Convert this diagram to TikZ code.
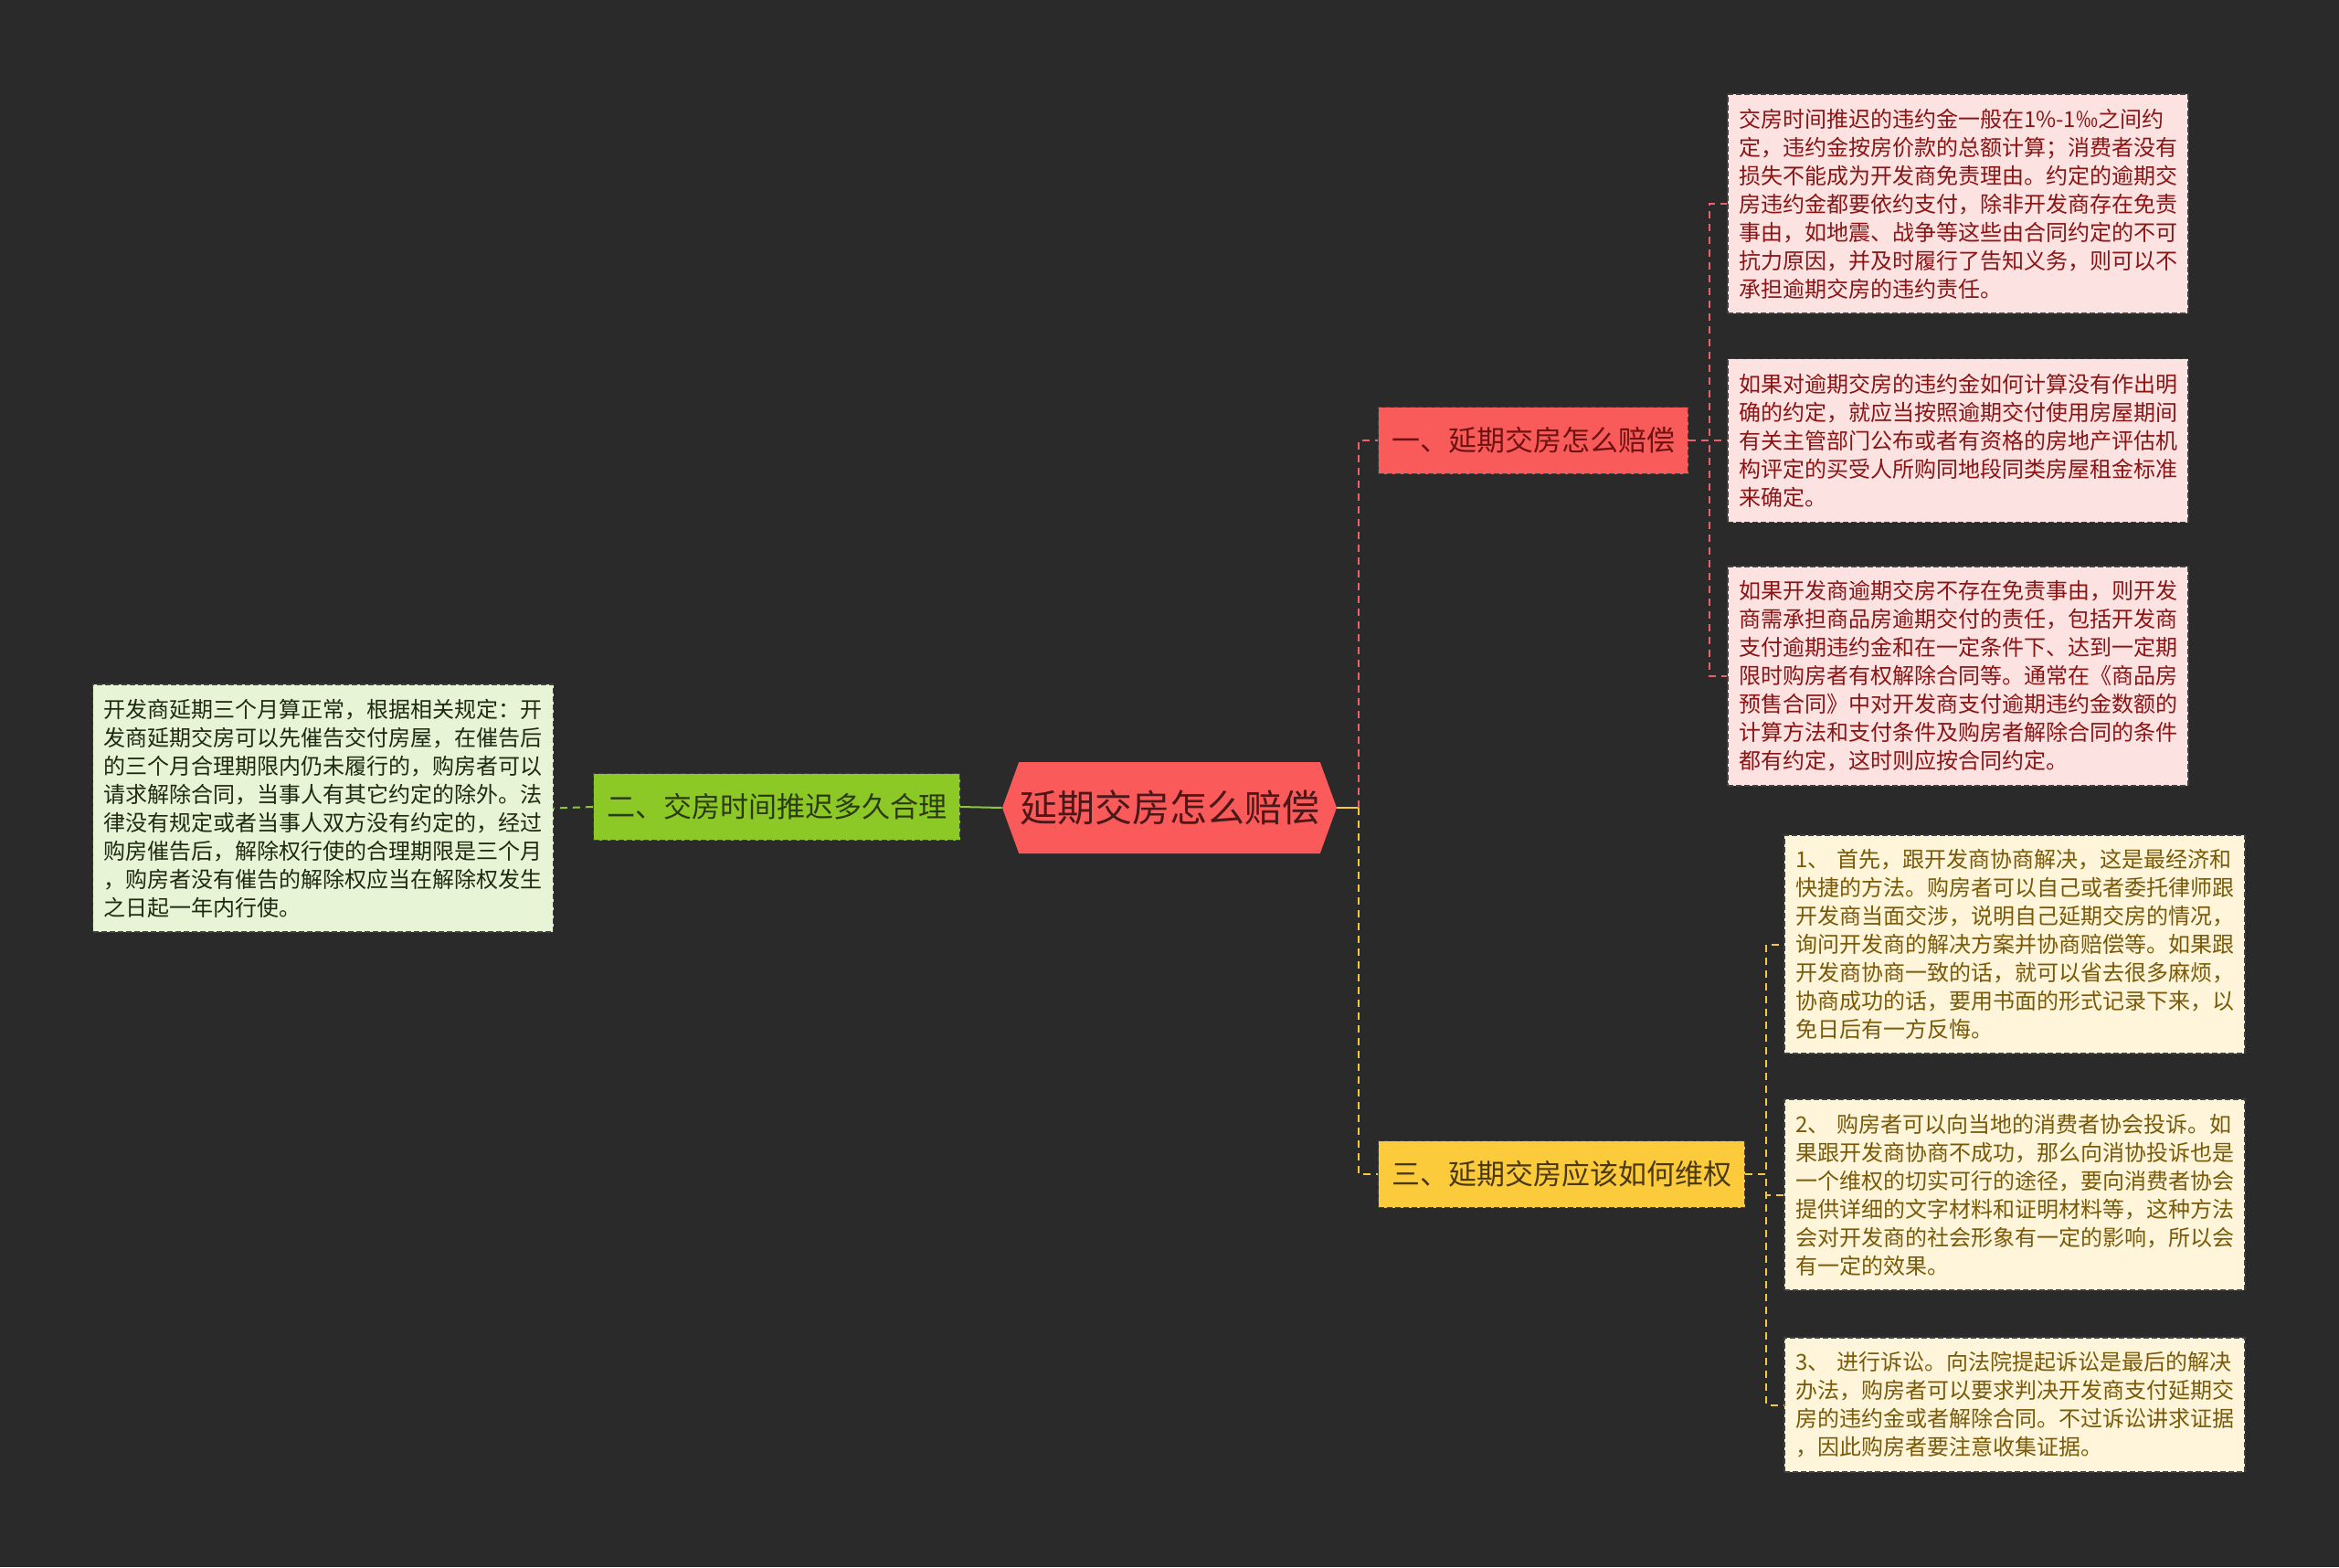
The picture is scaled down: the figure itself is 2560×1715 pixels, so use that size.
\documentclass[tikz,border=0pt]{standalone}
\usepackage{fontspec}
\setmainfont{Noto Sans CJK SC}
\usepackage{tikz}
\usetikzlibrary{shapes}

\definecolor{bgdark}{HTML}{2A2A2A}
\definecolor{rootred}{HTML}{FA5A5A}
\definecolor{rootink}{HTML}{4A1818}
\definecolor{redfill}{HTML}{F95B5B}
\definecolor{redink}{HTML}{6E1212}
\definecolor{redwire}{HTML}{E8636B}
\definecolor{pinkfill}{HTML}{FDE2E2}
\definecolor{pinkink}{HTML}{8A1515}
\definecolor{greenfill}{HTML}{8CC826}
\definecolor{greenink}{HTML}{2C3A12}
\definecolor{greenwire}{HTML}{8CC63F}
\definecolor{palegreen}{HTML}{E8F4D6}
\definecolor{paleink}{HTML}{1F2A12}
\definecolor{yelfill}{HTML}{FCCB3B}
\definecolor{yelink}{HTML}{4A3810}
\definecolor{yelwire}{HTML}{F5C842}
\definecolor{creamfill}{HTML}{FFF5DA}
\definecolor{creamink}{HTML}{7A5A08}

\begin{document}
\begin{tikzpicture}[x=0.5pt, y=-0.5pt]

      \tikzset{box/.style = {draw=black!75, dash pattern=on 3pt off 1.5pt, line width=0.7pt, inner sep=0pt}}
      \tikzset{root/.style = {signal, signal to=east and west, signal pointer angle=140, fill=rootred, text=rootink,
                              inner xsep=0pt, minimum width=183pt, minimum height=50pt, font=\fontsize{20.5pt}{24pt}\selectfont}}
      \tikzset{topic/.style = {box, minimum height=36.5pt, font=\fontsize{15.5pt}{18pt}\selectfont}}
      \tikzset{leaf/.style = {box, text width=240pt, align=left, minimum width=252pt,
                              font=\fontsize{12pt}{15.5pt}\selectfont}}
      \tikzset{wire/.style = {line width=1pt, dash pattern=on 4pt off 3pt}}

      \useasboundingbox (0,0) rectangle (2560,1715);
      \fill[bgdark] (0,0) rectangle (2560,1715);

      % vertices
      \node[root] (root) at (1280,884) {延期交房怎么赔偿};

      \node[topic, fill=redfill, text=redink, minimum width=169.5pt] (n1) at (1678,482) {一、延期交房怎么赔偿};
      \node[topic, fill=greenfill, text=greenink, minimum width=200.5pt] (n2) at (850,883) {二、交房时间推迟多久合理};
      \node[topic, fill=yelfill, text=yelink, minimum width=200.5pt] (n3) at (1709,1285) {三、延期交房应该如何维权};

      \node[leaf, fill=pinkfill, text=pinkink, minimum height=120pt] (p1) at (2143,223)
        {交房时间推迟的违约金一般在1\%-1‰之间约\\定，违约金按房价款的总额计算；消费者没有\\损失不能成为开发商免责理由。约定的逾期交\\房违约金都要依约支付，除非开发商存在免责\\事由，如地震、战争等这些由合同约定的不可\\抗力原因，并及时履行了告知义务，则可以不\\承担逾期交房的违约责任。};
      \node[leaf, fill=pinkfill, text=pinkink, minimum height=89.5pt] (p2) at (2143,482)
        {如果对逾期交房的违约金如何计算没有作出明\\确的约定，就应当按照逾期交付使用房屋期间\\有关主管部门公布或者有资格的房地产评估机\\构评定的买受人所购同地段同类房屋租金标准\\来确定。};
      \node[leaf, fill=pinkfill, text=pinkink, minimum height=120pt] (p3) at (2143,740)
        {如果开发商逾期交房不存在免责事由，则开发\\商需承担商品房逾期交付的责任，包括开发商\\支付逾期违约金和在一定条件下、达到一定期\\限时购房者有权解除合同等。通常在《商品房\\预售合同》中对开发商支付逾期违约金数额的\\计算方法和支付条件及购房者解除合同的条件\\都有约定，这时则应按合同约定。};

      \node[leaf, fill=palegreen, text=paleink, minimum height=135.5pt] (g1) at (353.5,884.5)
        {开发商延期三个月算正常，根据相关规定：开\\发商延期交房可以先催告交付房屋，在催告后\\的三个月合理期限内仍未履行的，购房者可以\\请求解除合同，当事人有其它约定的除外。法\\律没有规定或者当事人双方没有约定的，经过\\购房催告后，解除权行使的合理期限是三个月\\，购房者没有催告的解除权应当在解除权发生\\之日起一年内行使。};

      \node[leaf, fill=creamfill, text=creamink, minimum height=119.5pt] (y1) at (2205,1033.5)
        {1、 首先，跟开发商协商解决，这是最经济和\\快捷的方法。购房者可以自己或者委托律师跟\\开发商当面交涉，说明自己延期交房的情况，\\询问开发商的解决方案并协商赔偿等。如果跟\\开发商协商一致的话，就可以省去很多麻烦，\\协商成功的话，要用书面的形式记录下来，以\\免日后有一方反悔。};
      \node[leaf, fill=creamfill, text=creamink, minimum height=104.5pt] (y2) at (2205,1307.5)
        {2、 购房者可以向当地的消费者协会投诉。如\\果跟开发商协商不成功，那么向消协投诉也是\\一个维权的切实可行的途径，要向消费者协会\\提供详细的文字材料和证明材料等，这种方法\\会对开发商的社会形象有一定的影响，所以会\\有一定的效果。};
      \node[leaf, fill=creamfill, text=creamink, minimum height=73.5pt] (y3) at (2205,1537.5)
        {3、 进行诉讼。向法院提起诉讼是最后的解决\\办法，购房者可以要求判决开发商支付延期交\\房的违约金或者解除合同。不过诉讼讲求证据\\，因此购房者要注意收集证据。};

      % edges
      \path (root.east) ++(24,0) coordinate (bus);
      \draw[yelwire, line width=1pt] (root.east) -- (bus);
      \draw[wire, redwire] (bus) |- (n1.west);
      \draw[wire, yelwire] (bus) |- (n3.west);
      \draw[greenwire, line width=1pt] (root.west) -- (n2.east);
      \draw[wire, greenwire] (n2.west) -- (g1.east);

      \foreach \leafname in {p1,p2,p3}
        \draw[wire, redwire] (n1.east) -- ++(23,0) |- (\leafname.west);
      \foreach \leafname in {y1,y2,y3}
        \draw[wire, yelwire] (n3.east) -- ++(23,0) |- (\leafname.west);

\end{tikzpicture}
\end{document}
